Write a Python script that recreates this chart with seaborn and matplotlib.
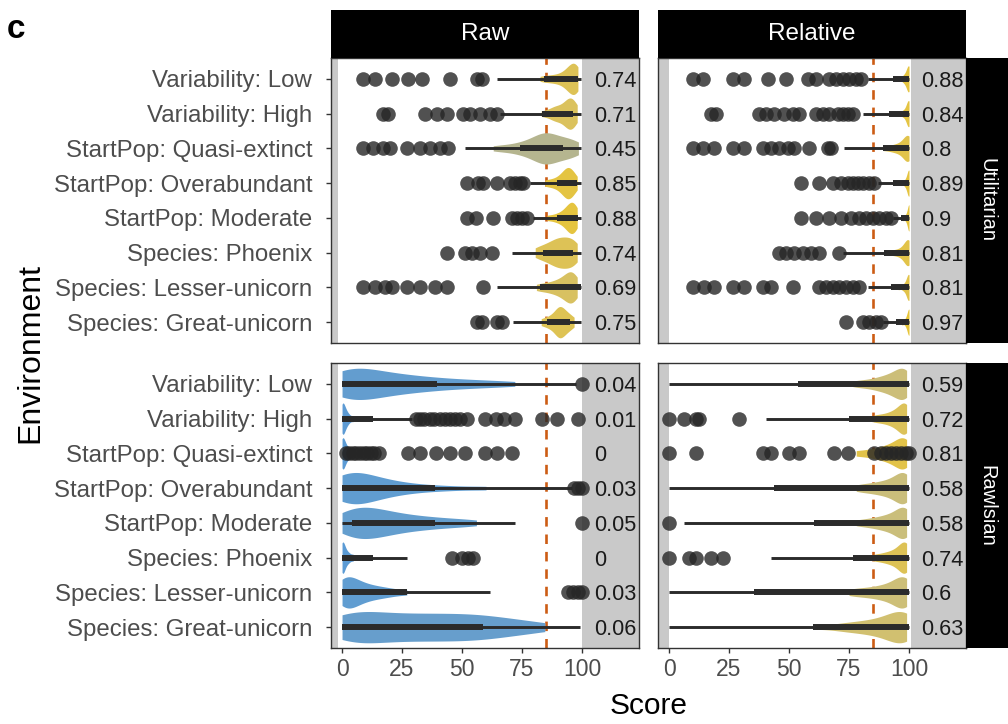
import numpy as np
import pandas as pd
import matplotlib
matplotlib.use("Agg")
import matplotlib.pyplot as plt
from matplotlib.colors import LinearSegmentedColormap
import seaborn as sns

# ---------------------------------------------------------------- data
ENVIRONMENTS = ["Variability: Low", "Variability: High", "StartPop: Quasi-extinct",
                "StartPop: Overabundant", "StartPop: Moderate", "Species: Phoenix",
                "Species: Lesser-unicorn", "Species: Great-unicorn"]
SCORE_TYPES = ["Raw", "Relative"]
OBJECTIVES = ["Utilitarian", "Rawlsian"]
THRESHOLD = 85
X_TICKS = [0, 25, 50, 75, 100]

# share of runs above threshold (printed at right of each row)
FRAC_RAW_UTIL = [0.74, 0.71, 0.45, 0.85, 0.88, 0.74, 0.69, 0.75]
FRAC_REL_UTIL = [0.88, 0.84, 0.8, 0.89, 0.9, 0.81, 0.81, 0.97]
FRAC_RAW_RAWL = [0.04, 0.01, 0, 0.03, 0.05, 0, 0.03, 0.06]
FRAC_REL_RAWL = [0.59, 0.72, 0.81, 0.58, 0.58, 0.74, 0.6, 0.63]

# box statistics: lower whisker, Q1, Q3, upper whisker
WLO_RAW_UTIL = [64.5, 66.0, 51.3, 78.3, 79.6, 70.7, 64.4, 71.4]
Q1_RAW_UTIL = [84.0, 83.2, 74.2, 89.4, 89.4, 83.9, 82.5, 85.3]
Q3_RAW_UTIL = [98.5, 96.4, 92.2, 97.8, 98.3, 96.4, 99.5, 95.0]
WHI_RAW_UTIL = [99.5, 99.5, 99.5, 99.5, 99.5, 99.5, 99.5, 99.5]

WLO_REL_UTIL = [82.8, 80.7, 73.0, 87.0, 93.2, 72.4, 82.8, 89.0]
Q1_REL_UTIL = [93.2, 91.8, 89.0, 93.2, 96.7, 89.7, 92.5, 94.6]
Q3_REL_UTIL = [100, 100, 100, 100, 100, 100, 100, 100]
WHI_REL_UTIL = [100, 100, 100, 100, 100, 100, 100, 100]

WLO_RAW_RAWL = [0, 0, 0, 0, 0, 0, 0, 0]
Q1_RAW_RAWL = [0, 0, 0, 0, 4.0, 0, 0, 0]
Q3_RAW_RAWL = [39.4, 13.0, 0, 38.7, 38.7, 13.0, 27.0, 58.9]
WHI_RAW_RAWL = [97.5, 29.0, 0, 95.7, 72.0, 27.0, 61.7, 99.2]

WLO_REL_RAWL = [0, 40.4, 100, 0, 6.4, 42.5, 0, 0]
Q1_REL_RAWL = [53.6, 75.1, 100, 43.9, 60.5, 76.5, 35.5, 59.9]
Q3_REL_RAWL = [100, 100, 100, 100, 100, 100, 100, 100]
WHI_REL_RAWL = [100, 100, 100, 100, 100, 100, 100, 100]

# outlying runs
OUT_RAW_UTIL = [
    [8.9, 13.7, 20.7, 27.6, 33.2, 45.0, 56.1, 58.2],
    [17.2, 19.3, 34.6, 39.5, 43.6, 50.6, 53.3, 57.5, 61.7, 64.4],
    [8.9, 13.0, 17.2, 20.0, 27.0, 32.5, 36.7, 40.8, 44.3],
    [52.0, 56.8, 58.9, 64.4, 70.0, 72.0, 74.2, 75.5],
    [52.0, 56.0, 63.0, 70.7, 72.8, 74.9, 77.0],
    [43.6, 51.3, 54.0, 57.5, 62.4],
    [8.9, 13.7, 17.9, 20.7, 27.0, 32.5, 38.7, 43.6, 58.9],
    [56.1, 58.2, 64.4, 66.5],
]
OUT_REL_UTIL = [
    [9.9, 14.0, 26.5, 31.4, 41.1, 48.7, 57.8, 61.2, 66.8, 69.6, 72.4, 75.1, 77.9, 80.0],
    [17.5, 19.6, 37.6, 40.4, 43.9, 48.0, 51.5, 54.3, 61.2, 64.0, 66.8, 70.3, 72.4, 74.4, 76.5],
    [9.9, 14.0, 18.9, 26.5, 31.4, 39.0, 42.5, 46.0, 49.5, 52.2, 58.5, 66.1, 67.5],
    [55.0, 62.6, 68.2, 71.7, 74.4, 76.5, 78.6, 80.7, 83.5, 85.5],
    [55.0, 61.2, 66.8, 71.7, 75.8, 79.3, 82.1, 84.9, 87.6, 90.4, 92.5],
    [46.0, 48.7, 52.2, 55.7, 59.2, 62.6, 71.0],
    [9.9, 14.7, 18.9, 26.5, 31.4, 39.0, 42.5, 51.5, 62.6, 65.4, 68.2, 71.0, 73.7, 76.5, 79.3],
    [73.7, 80.7, 83.5, 86.2, 88.3],
]
OUT_RAW_RAWL = [
    [100.0],
    [31.0, 32.5, 34.0, 36.7, 38.5, 40.8, 43.0, 45.0, 47.0, 49.2, 52.0, 59.6, 64.0,
     67.5, 72.0, 83.5, 89.4, 98.5],
    [1.5, 3.0, 4.5, 6.0, 7.5, 9.0, 10.5, 12.0, 13.5, 15.5, 27.6, 32.5, 39.2, 45.0,
     51.2, 59.6, 64.4, 71.0],
    [96.8, 98.5, 99.9],
    [100.0],
    [45.7, 49.9, 52.6, 54.7],
    [94.3, 96.4, 98.5, 99.9],
    [],
]
OUT_REL_RAWL = [
    [],
    [0.1, 6.4, 11.2, 12.6, 29.3],
    [0.1, 11.2, 39.0, 42.5, 50.0, 54.3, 68.9, 74.4, 85.5, 88.3, 90.4, 92.5, 94.6,
     96.7, 98.7, 99.8],
    [],
    [0.1],
    [0.1, 8.5, 11.2, 17.5, 22.4],
    [],
    [],
]

# score samples shaping the violins
VIO_RAW_UTIL = [
    [82.5, 85, 87, 89, 90.5, 92, 93, 94, 94.5, 95, 95.5, 96, 96.5, 97, 97, 97.5, 98, 98, 98.3],
    [83, 86, 88, 89, 90, 91.5, 92.5, 93.5, 94, 94.5, 95, 95.5, 96, 96.5, 97, 98],
    [63, 68, 72, 75, 77, 79, 80.5, 82, 83, 84, 84.5, 85, 86, 87, 88, 89.5, 91, 92.5,
     94, 95.5, 97, 98.5],
    [84.5, 87, 89, 90.5, 91.5, 92.5, 93, 93.5, 94, 94.5, 95, 95.5, 96, 97, 98],
    [85.5, 88.5, 90.5, 92, 93, 94, 94.5, 95, 95.5, 96, 96.5, 97, 97.5, 98],
    [80.5, 83, 85, 86.5, 88, 89, 90, 91, 92, 93, 94, 95, 96, 97, 98],
    [81, 84, 86.5, 88.5, 90, 91.5, 92.5, 93.5, 94.5, 95, 95.5, 96, 96.5, 97, 98],
    [83, 85.5, 87, 88.5, 89.5, 90, 90.5, 91, 91.5, 92, 93, 94, 95, 96.7],
]
VIO_REL_UTIL = [
    [95.5, 97.5, 98.5, 99.2, 99.6, 100, 100, 100, 100],
    [95.5, 97.3, 98.5, 99.2, 99.6, 100, 100, 100, 100],
    [89, 92, 94, 95.5, 96.8, 97.8, 98.6, 99.2, 99.6, 100, 100, 100, 100],
    [96.5, 98.3, 99.2, 99.7, 100, 100, 100, 100],
    [97.5, 98.8, 99.5, 100, 100, 100, 100],
    [91.5, 94, 96, 97.3, 98.3, 99, 99.5, 100, 100, 100, 100],
    [95.5, 97.5, 98.6, 99.3, 99.7, 100, 100, 100, 100],
    [97, 98.6, 99.4, 100, 100, 100, 100],
]
VIO_RAW_RAWL = [
    [0, 0, 0.5, 1, 2.5, 4, 6, 8, 10, 12.5, 15, 17.5, 20.5, 23.5, 27, 31, 35, 40, 46, 53, 61, 72],
    [0, 0, 0, 0.3, 0.6, 1, 1.5, 2, 3, 4.7],
    [0, 0, 0, 0.4, 0.8, 1.3, 2, 3, 4.7],
    [0, 0, 0.5, 1.5, 2.5, 4, 5.5, 7, 9, 11, 13.5, 16, 19, 23, 28, 35, 45, 60],
    [0, 1, 2.5, 4, 5.5, 7, 8.5, 10, 11.5, 13, 15, 17, 19, 21, 24, 27, 30, 34, 38, 43, 49, 56],
    [0, 0, 0, 0.3, 0.7, 1.2, 2, 3, 4.7],
    [0, 0, 0.5, 1, 2, 3, 4, 5, 6.5, 8, 10, 12, 14.5, 17.5, 21, 27],
    [0, 0, 1, 2.5, 4.5, 7, 9.5, 12, 15, 18, 21, 24, 27, 30, 33, 36, 39, 42, 45, 48, 51,
     54, 57, 60, 63, 67, 72, 78, 84.5],
]
VIO_REL_RAWL = [
    [76.5, 80, 83, 85.5, 87.5, 89, 90.5, 92, 93, 94, 95, 96, 96.8, 97.5, 98, 98.5, 99, 99, 99],
    [85, 88, 90.5, 92.5, 94, 95.2, 96.3, 97.2, 98, 98.5, 99, 99, 99],
    [78, 83, 86.5, 89, 91, 92.8, 94.3, 95.6, 96.7, 97.6, 98.3, 99, 99, 99],
    [78, 81.5, 84.5, 87, 89, 91, 92.5, 94, 95.2, 96.3, 97.2, 98, 98.5, 99, 99, 99],
    [78, 82, 85, 87.5, 89.5, 91.2, 92.8, 94.2, 95.4, 96.5, 97.4, 98.2, 98.7, 99, 99, 99],
    [85, 88.5, 91, 93, 94.6, 96, 97, 98, 98.6, 99, 99, 99],
    [75, 79, 82.5, 85.5, 88, 90, 92, 93.6, 95, 96.2, 97.2, 98, 98.6, 99, 99, 99],
    [60, 70, 75, 79, 82.5, 85.5, 88, 90.3, 92.3, 94, 95.5, 96.8, 97.8, 98.5, 99, 99, 99],
]

# ---------------------------------------------------------------- style
sns.set_theme(style="white")
plt.rcParams["font.family"] = ["Liberation Sans", "DejaVu Sans"]

W, H = 1008, 724
XLIM = (-4.6, 123.75)
YLIM = (7.6, -0.6)
GRAY = "#C9C9C9"
LINE = "#2B2B2B"
DOT = "#262626"
ORANGE = "#CC5C14"
TICK_GRAY = "#4D4D4D"
CMAP = LinearSegmentedColormap.from_list(
    "frac", [(0.0, "#5B9BD5"), (0.45, "#B5B58F"), (0.6, "#CDBF78"),
             (0.72, "#DCC25A"), (0.85, "#E4C442"), (1.0, "#E8C535")])


def px_box(x0, y0, x1, y1):
    return [x0 / W, 1 - y1 / H, (x1 - x0) / W, (y1 - y0) / H]


fig = plt.figure(figsize=(W / 100, H / 100), dpi=100)

COL_X = {"Raw": (331, 639), "Relative": (658, 966)}
ROW_Y = {"Utilitarian": (58, 343), "Rawlsian": (363, 648)}
LEFT_GRAY_END = {"Raw": -1.5, "Relative": 0.0}
RIGHT_GRAY_START = {"Raw": 100.0, "Relative": 100.7}
VIO_WIDTH = {("Utilitarian", "Raw"): 0.9, ("Utilitarian", "Relative"): 0.75,
             ("Rawlsian", "Raw"): 0.9, ("Rawlsian", "Relative"): 0.9}

PANELS = {
    ("Utilitarian", "Raw"): (FRAC_RAW_UTIL, WLO_RAW_UTIL, Q1_RAW_UTIL, Q3_RAW_UTIL,
                             WHI_RAW_UTIL, OUT_RAW_UTIL, VIO_RAW_UTIL),
    ("Utilitarian", "Relative"): (FRAC_REL_UTIL, WLO_REL_UTIL, Q1_REL_UTIL, Q3_REL_UTIL,
                                  WHI_REL_UTIL, OUT_REL_UTIL, VIO_REL_UTIL),
    ("Rawlsian", "Raw"): (FRAC_RAW_RAWL, WLO_RAW_RAWL, Q1_RAW_RAWL, Q3_RAW_RAWL,
                          WHI_RAW_RAWL, OUT_RAW_RAWL, VIO_RAW_RAWL),
    ("Rawlsian", "Relative"): (FRAC_REL_RAWL, WLO_REL_RAWL, Q1_REL_RAWL, Q3_REL_RAWL,
                               WHI_REL_RAWL, OUT_REL_RAWL, VIO_REL_RAWL),
}

for (obj, stype), (frac, wlo, q1, q3, whi, outs, vios) in PANELS.items():
    x0, x1 = COL_X[stype]
    y0, y1 = ROW_Y[obj]
    ax = fig.add_axes(px_box(x0, y0, x1, y1))
    ax.set_facecolor("white")
    pos = np.arange(len(ENVIRONMENTS))

    ax.axvspan(XLIM[0], LEFT_GRAY_END[stype], color=GRAY, lw=0, zorder=0)
    ax.axvspan(RIGHT_GRAY_START[stype], XLIM[1], color=GRAY, lw=0, zorder=0)
    ax.axvline(THRESHOLD, color=ORANGE, lw=1.9, ls=(0, (3.6, 3.0)), zorder=0.5)

    vdf = pd.DataFrame([(e, v) for e, vals in zip(ENVIRONMENTS, vios) for v in vals],
                       columns=["env", "score"])
    pal = {e: CMAP(f) for e, f in zip(ENVIRONMENTS, frac)}
    sns.violinplot(data=vdf, x="score", y="env", hue="env", order=ENVIRONMENTS,
                   hue_order=ENVIRONMENTS, palette=pal, orient="h", inner=None,
                   cut=0, density_norm="width", width=VIO_WIDTH[(obj, stype)],
                   linewidth=0, bw_adjust=0.8, saturation=1, legend=False, ax=ax)

    ax.hlines(pos, wlo, whi, color=LINE, lw=2.1, zorder=3)
    ax.hlines(pos, q1, q3, color=LINE, lw=4.3, zorder=3)

    odf = pd.DataFrame([(e, v) for e, vals in zip(ENVIRONMENTS, outs) for v in vals],
                       columns=["env", "score"])
    sns.stripplot(data=odf, x="score", y="env", order=ENVIRONMENTS, orient="h",
                  jitter=False, color=DOT, alpha=0.8, size=10.5, linewidth=0,
                  ax=ax, zorder=4)

    for p, f in zip(pos, frac):
        ax.text(105, p, f"{f:g}", ha="left", va="center_baseline", fontsize=15.7,
                color="#1A1A1A", zorder=5)

    ax.set_xlim(*XLIM)
    ax.set_ylim(*YLIM)
    ax.set_xlabel("")
    ax.set_ylabel("")
    for s in ax.spines.values():
        s.set_color("#333333")
        s.set_linewidth(1.0)
    ax.set_xticks(X_TICKS)
    ax.set_yticks(pos)
    if stype == "Raw":
        ax.set_yticklabels(ENVIRONMENTS)
        ax.tick_params(axis="y", left=True, length=3.5, width=1, color="#333333",
                       pad=10, labelsize=17.3, labelcolor=TICK_GRAY)
    else:
        ax.tick_params(axis="y", left=False, labelleft=False)
    if obj == "Rawlsian":
        ax.set_xticklabels([str(t) for t in X_TICKS])
        ax.tick_params(axis="x", bottom=True, length=3.5, width=1, color="#333333",
                       pad=3.5, labelsize=16.5, labelcolor=TICK_GRAY)
    else:
        ax.tick_params(axis="x", bottom=False, labelbottom=False)

# column strips
for stype in SCORE_TYPES:
    x0, x1 = COL_X[stype]
    sax = fig.add_axes(px_box(x0, 10, x1, 58))
    sax.set_facecolor("black")
    sax.set_xticks([])
    sax.set_yticks([])
    for s in sax.spines.values():
        s.set_visible(False)
    sax.text(0.5, 0.5, stype, ha="center", va="center", color="white", fontsize=17.5,
             transform=sax.transAxes)

# row strips
for obj in OBJECTIVES:
    y0, y1 = ROW_Y[obj]
    sax = fig.add_axes(px_box(966, y0, 1020, y1))
    sax.set_facecolor("black")
    sax.set_xticks([])
    sax.set_yticks([])
    for s in sax.spines.values():
        s.set_visible(False)
    sax.text(0.5 * (1008 - 966) / (1020 - 966), 0.5, obj, ha="center", va="center",
             color="white", fontsize=14.5, rotation=270, transform=sax.transAxes)

fig.text(30 / W, 1 - 353 / H, "Environment", rotation=90, ha="center", va="center",
         fontsize=23, color="black")
fig.text(648.5 / W, 1 - 706 / H, "Score", ha="center", va="center", fontsize=21.5,
         color="black")
fig.text(7 / W, 1 - 38 / H, "c", ha="left", va="baseline", fontsize=24,
         fontweight="bold", color="black")

fig.savefig("out.png", dpi=100)
